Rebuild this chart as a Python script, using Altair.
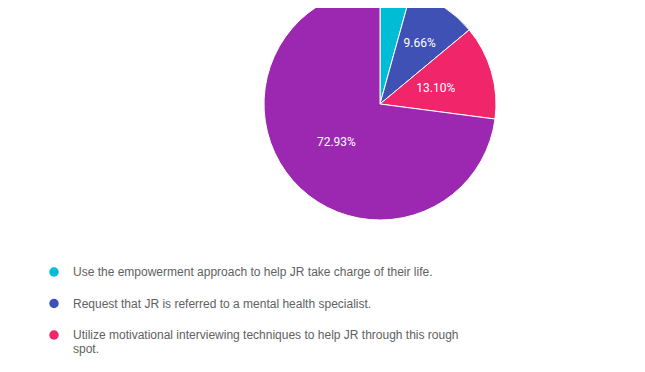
import altair as alt
import pandas as pd
import textwrap

answers = [
    "Use the empowerment approach to help JR take charge of their life.",
    "Request that JR is referred to a mental health specialist.",
    "Utilize motivational interviewing techniques to help JR through this rough spot.",
    "Other response",
]
shares = [4.31, 9.66, 13.10, 72.93]
colors = ["#00BCD4", "#3F51B5", "#F0256A", "#9C27B0"]

wrapped = [textwrap.wrap(a, 74) for a in answers]
# legend slot: one unit per item plus extra space for each wrapped line before it
slots = []
extra = 0
for i, w in enumerate(wrapped):
    slots.append(i + extra * 0.444)
    extra += len(w) - 1

df = pd.DataFrame({
    "answer": answers,
    "share": shares,
    "idx": list(range(len(answers))),
    "slot": slots,
    "label": [f"{s:.2f}%" for s in shares],
    "wrapped": ["\n".join(w) for w in wrapped],
})

color = alt.Color("answer:N", scale=alt.Scale(domain=answers, range=colors), legend=None)

base = alt.Chart(df)

pie = base.mark_arc(stroke="white", strokeWidth=1, outerRadius=116).encode(
    theta=alt.Theta("share:Q", stack=True),
    order=alt.Order("idx:Q"),
    color=color,
    x=alt.value(372),
    y=alt.value(96),
)


def label_layer(cond, r):
    return base.mark_text(font="Roboto", fontSize=12, color="white").encode(
        theta=alt.Theta("share:Q", stack=True),
        order=alt.Order("idx:Q"),
        text=alt.Text("shown:N"),
        radius=alt.value(r),
        x=alt.value(372),
        y=alt.value(96),
    ).transform_calculate(
        shown=f"({cond}) && datum.share > 5 ? datum.label : ''"
    )


labels_small = label_layer("datum.share < 10", 73)
labels_big = label_layer("datum.share >= 10", 58)

ypos = alt.Y("slot:Q", scale=alt.Scale(domain=[0, 3], range=[264, 358.5]), axis=None)

# the last legend entry lies below the visible page area
legend_base = base.transform_filter("datum.slot < 3.2")

dots = legend_base.mark_circle(size=90, opacity=1).encode(
    x=alt.value(46),
    y=ypos,
    color=color,
)

texts = legend_base.mark_text(
    font="Arial", fontSize=12, color="#616161", align="left", baseline="top",
    lineBreak="\n", lineHeight=14, dy=-5,
).encode(
    x=alt.value(65),
    y=ypos,
    text="wrapped:N",
)

chart = alt.layer(pie, labels_small, labels_big, dots, texts).properties(
    width=629, height=356, padding=0, autosize="none"
).configure_view(stroke=None)

chart.save("out.html", embed_options={"renderer": "svg", "actions": False})
